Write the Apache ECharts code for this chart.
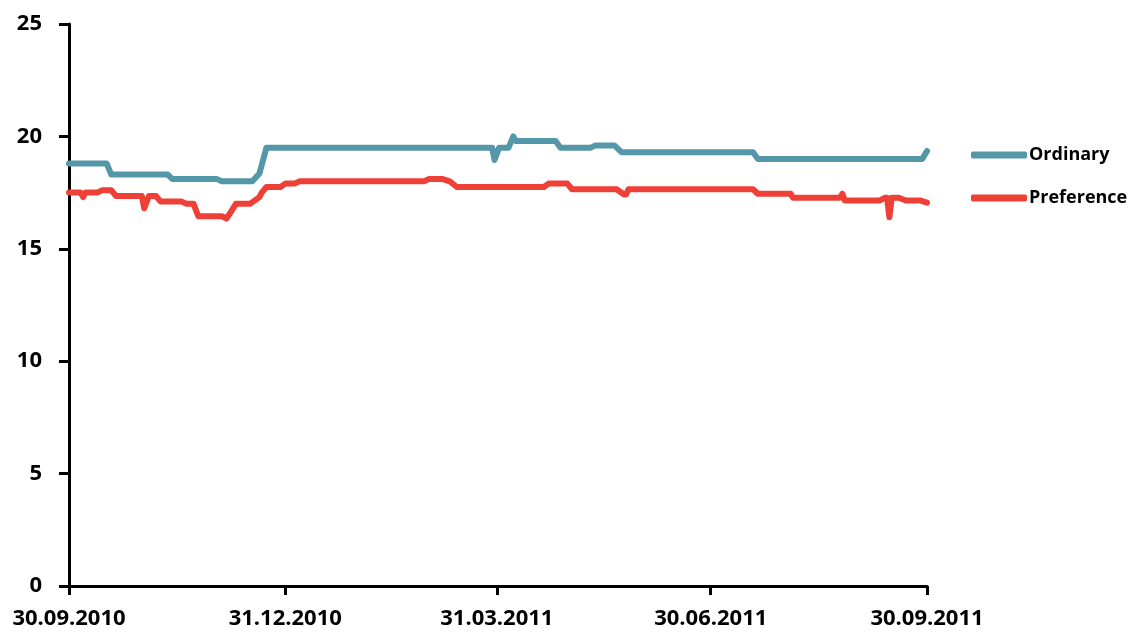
<!DOCTYPE html>
<html>
<head>
<meta charset="utf-8">
<script src="https://cdn.jsdelivr.net/npm/echarts@6/dist/echarts.min.js"></script>
<style>
  html, body { margin: 0; padding: 0; background: #fff; }
  #chart { width: 1133px; height: 634px; }
</style>
</head>
<body>
<div id="chart"></div>
<script>
// 数据：[日期, 数值]，从图上读出的变化点
var ordinary = [
  ['2010-09-30', 18.8], ['2010-10-16', 18.8], ['2010-10-18', 18.3],
  ['2010-11-11', 18.3], ['2010-11-13', 18.1], ['2010-12-02', 18.1],
  ['2010-12-04', 18.0], ['2010-12-17', 18.0], ['2010-12-20', 18.35],
  ['2010-12-23', 19.5], ['2011-03-29', 19.5], ['2011-03-30', 18.95],
  ['2011-04-01', 19.5], ['2011-04-05', 19.5], ['2011-04-07', 20.0],
  ['2011-04-08', 19.8], ['2011-04-25', 19.8], ['2011-04-27', 19.5],
  ['2011-05-10', 19.5], ['2011-05-12', 19.6], ['2011-05-20', 19.6],
  ['2011-05-23', 19.3], ['2011-07-18', 19.3], ['2011-07-20', 19.0],
  ['2011-09-28', 19.0], ['2011-09-30', 19.35]
];
var preference = [
  ['2010-09-30', 17.5], ['2010-10-05', 17.5], ['2010-10-06', 17.3],
  ['2010-10-07', 17.5], ['2010-10-12', 17.5], ['2010-10-14', 17.6],
  ['2010-10-18', 17.6], ['2010-10-20', 17.35], ['2010-10-31', 17.35],
  ['2010-11-01', 16.8], ['2010-11-03', 17.35], ['2010-11-06', 17.35],
  ['2010-11-08', 17.1], ['2010-11-17', 17.1], ['2010-11-19', 17.0],
  ['2010-11-22', 17.0], ['2010-11-24', 16.45], ['2010-12-04', 16.45],
  ['2010-12-06', 16.35], ['2010-12-07', 16.5], ['2010-12-10', 17.0],
  ['2010-12-16', 17.0], ['2010-12-20', 17.3], ['2010-12-21', 17.5],
  ['2010-12-23', 17.75], ['2010-12-29', 17.75], ['2010-12-31', 17.9],
  ['2011-01-04', 17.9], ['2011-01-06', 18.0], ['2011-02-28', 18.0],
  ['2011-03-02', 18.1], ['2011-03-08', 18.1], ['2011-03-11', 18.0],
  ['2011-03-14', 17.75], ['2011-04-20', 17.75], ['2011-04-22', 17.9],
  ['2011-04-30', 17.9], ['2011-05-02', 17.65], ['2011-05-21', 17.65],
  ['2011-05-24', 17.42], ['2011-05-25', 17.42], ['2011-05-26', 17.65],
  ['2011-07-18', 17.65], ['2011-07-20', 17.45], ['2011-08-03', 17.45],
  ['2011-08-04', 17.27], ['2011-08-24', 17.27], ['2011-08-25', 17.45],
  ['2011-08-26', 17.15], ['2011-09-10', 17.15], ['2011-09-12', 17.27],
  ['2011-09-13', 17.27], ['2011-09-14', 16.4], ['2011-09-15', 17.27],
  ['2011-09-18', 17.27], ['2011-09-21', 17.15], ['2011-09-27', 17.15],
  ['2011-09-30', 17.05]
];
var xTicks = ['2010-09-30', '2010-12-31', '2011-03-31', '2011-06-30', '2011-09-30'];

function toTime(s) {
  var p = s.split('-');
  return new Date(+p[0], +p[1] - 1, +p[2]).getTime();
}
function conv(arr) {
  return arr.map(function (d) { return [toTime(d[0]), d[1]]; });
}
function pad(n) { return n < 10 ? '0' + n : '' + n; }
var tickTimes = xTicks.map(toTime);

var font = '"Open Sans", sans-serif';
var myChart = echarts.init(document.getElementById('chart'));
var option = {
  animation: false,
  grid: { left: 69, right: 206, top: 24, bottom: 48 },
  legend: {
    orient: 'vertical',
    left: 966,
    top: 141,
    itemWidth: 56,
    itemHeight: 7,
    itemGap: 25,
    icon: 'roundRect',
    textStyle: { fontFamily: font, fontWeight: 'bold', fontSize: 18, color: '#000', padding: [0, 0, 0, -3] },
    data: ['Ordinary', 'Preference']
  },
  xAxis: {
    type: 'value',
    min: tickTimes[0],
    max: tickTimes[tickTimes.length - 1],
    axisLine: { show: true, lineStyle: { color: '#000', width: 3 } },
    axisTick: { show: true, length: 9, customValues: tickTimes, lineStyle: { color: '#000', width: 3 } },
    axisLabel: {
      customValues: tickTimes,
      margin: 22,
      color: '#000',
      fontFamily: font,
      fontWeight: 'bold',
      fontSize: 22,
      formatter: function (v) {
        var d = new Date(v);
        return pad(d.getDate()) + '.' + pad(d.getMonth() + 1) + '.' + d.getFullYear();
      }
    },
    splitLine: { show: false }
  },
  yAxis: {
    type: 'value',
    min: 0,
    max: 25,
    interval: 5,
    axisLine: { show: true, lineStyle: { color: '#000', width: 3 } },
    axisTick: { show: true, length: 10, lineStyle: { color: '#000', width: 3 } },
    axisLabel: { margin: 27, color: '#000', fontFamily: font, fontWeight: 'bold', fontSize: 22 },
    splitLine: { show: false }
  },
  series: [
    {
      name: 'Ordinary',
      type: 'line',
      symbol: 'none',
      data: conv(ordinary),
      color: '#5497a8',
      lineStyle: { width: 6, color: '#5497a8', cap: 'round', join: 'round' }
    },
    {
      name: 'Preference',
      type: 'line',
      symbol: 'none',
      data: conv(preference),
      color: '#ee4037',
      lineStyle: { width: 6, color: '#ee4037', cap: 'round', join: 'round' }
    }
  ]
};
myChart.setOption(option);
</script>
</body>
</html>
